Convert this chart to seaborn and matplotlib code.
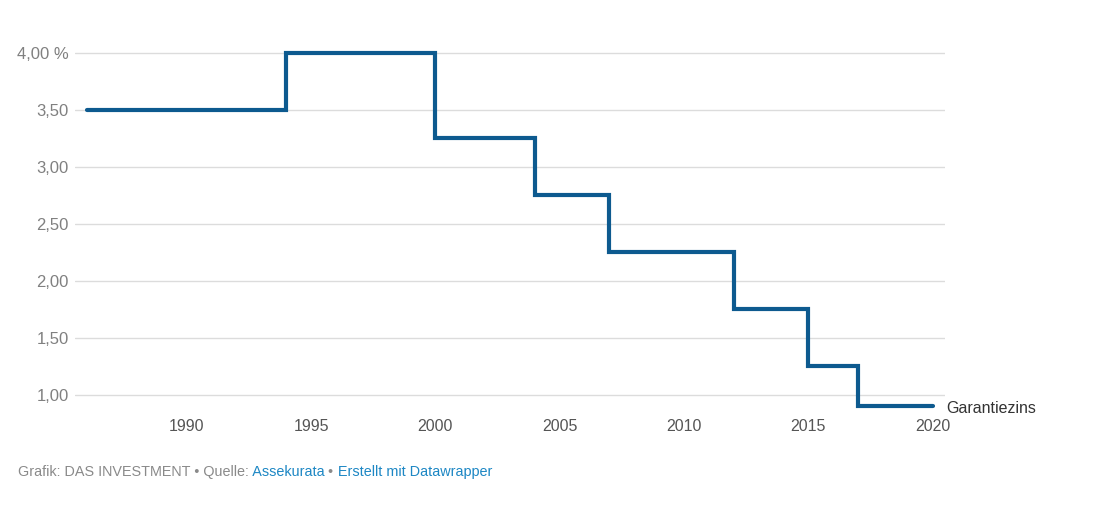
import numpy as np
import pandas as pd
import matplotlib
matplotlib.use("Agg")
import matplotlib.pyplot as plt
import seaborn as sns

# Garantiezins (Höchstrechnungszins) je Jahr, Stufenwerte
years = [1986, 1994, 2000, 2004, 2007, 2012, 2015, 2017, 2020]
rates = [3.50, 4.00, 3.25, 2.75, 2.25, 1.75, 1.25, 0.90, 0.90]
y_ticks = [1.0, 1.5, 2.0, 2.5, 3.0, 3.5, 4.0]
y_labels = ["1,00", "1,50", "2,00", "2,50", "3,00", "3,50", "4,00 %"]
x_ticks = [1990, 1995, 2000, 2005, 2010, 2015, 2020]
series_name = "Garantiezins"

df = pd.DataFrame({"Jahr": years, "Zins": rates})

sns.set_theme(style="white")
plt.rcParams['font.family'] = ['Liberation Sans', 'DejaVu Sans']

fig = plt.figure(figsize=(11.02, 5.08), dpi=100)
ax = fig.add_axes([0.068, 0.189, 0.7895, 0.718])

sns.lineplot(data=df, x="Jahr", y="Zins", ax=ax, color="#0d5a8f",
             linewidth=3.0, drawstyle="steps-post", solid_capstyle="round",
             solid_joinstyle="miter", zorder=3)

ax.set_xlim(1985.5, 2020.5)
ax.set_ylim(0.85, 4.05)
ax.set_yticks(y_ticks)
ax.set_yticklabels(y_labels)
ax.set_xticks(x_ticks)
ax.set_xticklabels([str(x) for x in x_ticks])
ax.set_xlabel("")
ax.set_ylabel("")

for y in y_ticks:
    ax.axhline(y, color="#dcdcdc", linewidth=1.0, zorder=1)

for s in ax.spines.values():
    s.set_visible(False)
ax.tick_params(axis="y", length=0, pad=4.3, labelsize=12, labelcolor="#808080")
ax.tick_params(axis="x", length=0, pad=5, labelsize=11.5, labelcolor="#555555")
for lbl in ax.get_yticklabels():
    lbl.set_horizontalalignment("right")

ax.text(years[-1] + 0.55, rates[-1] - 0.02, series_name, fontsize=11.5,
        color="#333333", ha="left", va="center")

# Fußzeile
t1 = fig.text(18 / 1102, 1 - 472 / 508, "Grafik: DAS INVESTMENT \u2022 Quelle:",
              fontsize=10.4, color="#8a8a8a", va="center", ha="left")
t2 = ax.annotate(" Assekurata", xy=(1, 0.5), xycoords=t1, va="center", ha="left",
                 fontsize=10.4, color="#1d87c4", annotation_clip=False)
t3 = ax.annotate(" \u2022 ", xy=(1, 0.5), xycoords=t2, va="center", ha="left",
                 fontsize=10.4, color="#8a8a8a", annotation_clip=False)
ax.annotate("Erstellt mit Datawrapper", xy=(1, 0.5), xycoords=t3, va="center",
            ha="left", fontsize=10.4, color="#1d87c4", annotation_clip=False)

fig.savefig("out.png", dpi=100)
